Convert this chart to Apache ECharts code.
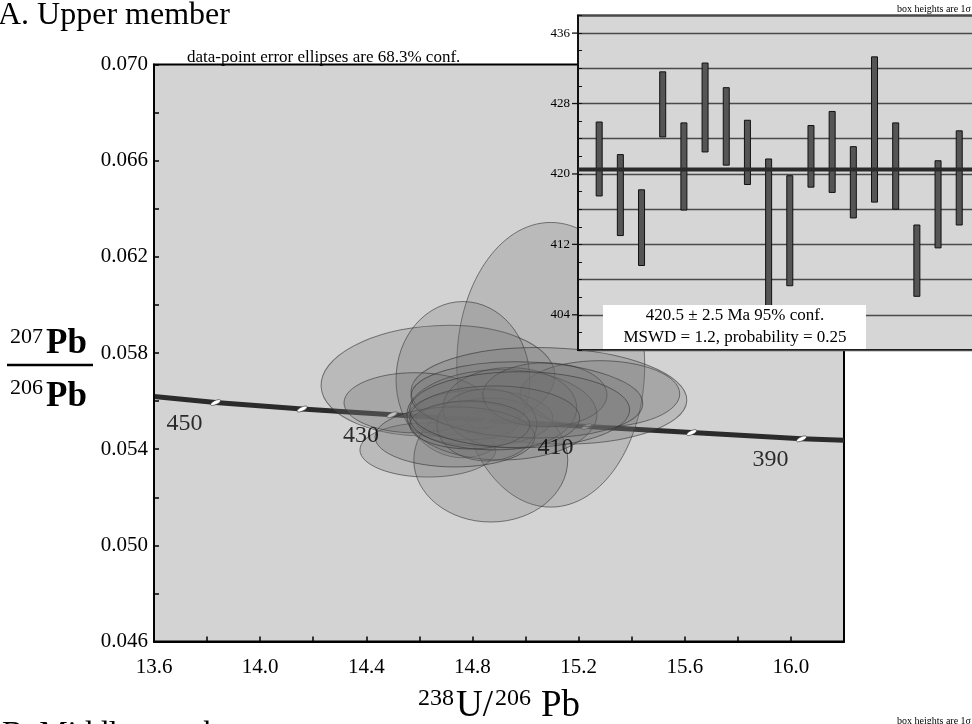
<!DOCTYPE html>
<html>
<head>
<meta charset="utf-8">
<title>A. Upper member</title>
<script src="https://cdn.jsdelivr.net/npm/echarts@6/dist/echarts.min.js"></script>
<style>
html,body{margin:0;padding:0;background:#fff;}
#chart{width:972px;height:724px;}
</style>
</head>
<body>
<div id="chart"></div>
<script>
var serif = "'Liberation Serif', 'Times New Roman', serif";

// concordia curve, age marks
var concAge = [450, 440, 430, 420, 410, 400, 390];
var concX = [13.832, 14.158, 14.497, 14.854, 15.230, 15.626, 16.040];
var concY = [0.05594, 0.05567, 0.05543, 0.05519, 0.05494, 0.05469, 0.05443];
var concStart = [13.6, 0.05619];
var concEnd = [16.2, 0.05437];
var concLabelAges = [450, 430, 410, 390];

// data-point error ellipses (centre, half axes, tilt in deg)
var ellX = [15.095, 14.670, 14.764, 15.088, 15.280, 14.632, 14.583, 14.869, 14.835, 14.828, 14.783, 14.911, 14.941, 14.854, 15.073, 14.734, 15.005, 14.790, 14.884, 14.978];
var ellY = [0.05751, 0.05685, 0.05689, 0.05622, 0.05630, 0.05397, 0.05593, 0.05355, 0.05522, 0.05530, 0.05518, 0.05543, 0.05572, 0.05501, 0.05626, 0.05451, 0.05605, 0.05501, 0.05530, 0.05564];
var ellRx = [0.354, 0.441, 0.252, 0.520, 0.301, 0.256, 0.267, 0.290, 0.056, 0.275, 0.196, 0.358, 0.252, 0.188, 0.234, 0.301, 0.437, 0.226, 0.320, 0.414];
var ellRy = [0.00592, 0.00229, 0.00325, 0.00200, 0.00138, 0.00113, 0.00125, 0.00258, 0.00035, 0.00117, 0.00079, 0.00188, 0.00167, 0.00150, 0.00133, 0.00125, 0.00158, 0.00100, 0.00133, 0.00158];
var ellRot = [0, 3, 0, -2, 0, 0, 0, 0, 0, 0, 0, 0, 0, 0, 0, 0, -2, 0, 0, 0];

// axis tick labels
var xTicks = [13.6, 14.0, 14.4, 14.8, 15.2, 15.6, 16.0];
var yTicks = [0.046, 0.050, 0.054, 0.058, 0.062, 0.066, 0.070];

// inset: weighted mean, box heights 1 sigma (Ma)
var barLo = [417.5, 413.0, 409.6, 424.2, 415.9, 422.5, 421.0, 418.8, 404.8, 407.3, 418.5, 417.9, 415.0, 416.8, 416.0, 406.1, 411.6, 414.2];
var barHi = [425.9, 422.2, 418.2, 431.6, 425.8, 432.6, 429.8, 426.1, 421.7, 419.8, 425.5, 427.1, 423.1, 433.3, 425.8, 414.2, 421.5, 424.9];
var meanAge = 420.5;
var insetTicks = [404, 412, 420, 428, 436];

function pickLabel(list, digits){
	return function(v){
		for(var i = 0; i < list.length; i++){
			if(Math.abs(v - list[i]) < 1e-7) return list[i].toFixed(digits);
		}
		return '';
	};
}

var chart = echarts.init(document.getElementById('chart'));

var concLine = [concStart];
var concMarks = [];
for(var i = 0; i < concAge.length; i++){
	concLine.push([concX[i], concY[i]]);
	concMarks.push([concX[i], concY[i]]);
}
concLine.push(concEnd);

var concLabels = [];
for(var i = 0; i < concLabelAges.length; i++){
	var k = concAge.indexOf(concLabelAges[i]);
	concLabels.push({value: [concX[k], concY[k]], name: String(concAge[k])});
}

var ellData = [];
for(var i = 0; i < ellX.length; i++){
	ellData.push([ellX[i], ellY[i], ellRx[i], ellRy[i], ellRot[i]]);
}

var barData = [];
for(var i = 0; i < barLo.length; i++){
	barData.push([i + 1, barLo[i], barHi[i]]);
}

// labelled inset ticks stick out to the left of the axis
var insetMajor = [];
for(var i = 0; i < insetTicks.length; i++){
	insetMajor.push([0, insetTicks[i]]);
}

function renderEllipse(params, api){
	var c = api.coord([api.value(0), api.value(1)]);
	var s = api.size([api.value(2), api.value(3)]);
	return {
		type: 'ellipse',
		x: c[0], y: c[1],
		rotation: api.value(4) * Math.PI / 180,
		shape: {cx: 0, cy: 0, rx: s[0], ry: s[1]},
		style: {fill: 'rgba(112,112,112,0.25)', stroke: 'rgba(50,50,50,0.6)', lineWidth: 1}
	};
}

function renderBar(params, api){
	var lo = api.coord([api.value(0), api.value(1)]);
	var hi = api.coord([api.value(0), api.value(2)]);
	return {
		type: 'rect',
		shape: {x: hi[0] - 3, y: hi[1], width: 6, height: lo[1] - hi[1]},
		style: {fill: '#555', stroke: '#111', lineWidth: 1}
	};
}

function renderMajorTick(params, api){
	var p = api.coord([api.value(0), api.value(1)]);
	return {
		type: 'line',
		shape: {x1: p[0] - 6, y1: p[1], x2: p[0], y2: p[1]},
		style: {stroke: '#111', lineWidth: 1.3}
	};
}

var option = {
	animation: false,
	backgroundColor: '#fff',
	grid: [
		{left: 154, top: 64.5, width: 690, height: 577, show: true, backgroundColor: '#d3d3d3',
		 borderColor: '#000', borderWidth: 2, z: 0, outerBoundsMode: 'none', containLabel: false},
		{left: 578, top: 15.5, width: 413, height: 334.5, show: true, backgroundColor: '#d6d6d6',
		 borderColor: '#111', borderWidth: 2, z: 10, outerBoundsMode: 'none', containLabel: false}
	],
	xAxis: [
		{type: 'value', gridIndex: 0, min: 13.6, max: 16.2, interval: 0.2, z: 5,
		 axisLine: {show: true, onZero: false, lineStyle: {color: '#000', width: 2}},
		 axisTick: {show: true, inside: true, length: 5, lineStyle: {color: '#000', width: 1.5}},
		 axisLabel: {show: true, margin: 15, color: '#000', fontSize: 21, fontFamily: serif,
		  formatter: pickLabel(xTicks, 1), showMaxLabel: false},
		 splitLine: {show: false}},
		{type: 'value', gridIndex: 1, min: 0, max: 19.5, z: 11,
		 axisLine: {show: false}, axisTick: {show: false}, axisLabel: {show: false}, splitLine: {show: false}}
	],
	yAxis: [
		{type: 'value', gridIndex: 0, min: 0.046, max: 0.070, interval: 0.002, z: 5,
		 axisLine: {show: true, onZero: false, lineStyle: {color: '#000', width: 2}},
		 axisTick: {show: true, inside: true, length: 5, lineStyle: {color: '#000', width: 1.5}},
		 axisLabel: {show: true, margin: 6, color: '#000', fontSize: 21, fontFamily: serif,
		  formatter: pickLabel(yTicks, 3)},
		 splitLine: {show: false}},
		{type: 'value', gridIndex: 1, min: 400, max: 438, interval: 2, z: 11,
		 axisLine: {show: true, onZero: false, lineStyle: {color: '#111', width: 2}},
		 axisTick: {show: true, inside: true, length: 4, lineStyle: {color: '#111', width: 1}},
		 axisLabel: {show: true, margin: 8, color: '#000', fontSize: 13, fontFamily: serif,
		  formatter: pickLabel(insetTicks, 0)},
		 splitLine: {show: false}},
		{type: 'value', gridIndex: 1, min: 400, max: 438, interval: 4, z: 11, position: 'left',
		 axisLine: {show: false}, axisTick: {show: false}, axisLabel: {show: false},
		 splitLine: {show: true, lineStyle: {color: '#4a4a4a', width: 1.3}}}
	],
	series: [
		{type: 'line', xAxisIndex: 0, yAxisIndex: 0, data: concLine, showSymbol: false, symbol: 'none',
		 smooth: false, z: 2, lineStyle: {color: '#2b2b2b', width: 5}, silent: true},
		{type: 'scatter', xAxisIndex: 0, yAxisIndex: 0, data: concMarks, symbol: 'circle',
		 symbolSize: [11, 4], symbolRotate: 25, z: 2, silent: true,
		 itemStyle: {color: '#fff', borderColor: '#333', borderWidth: 0.5, opacity: 1}},
		{type: 'custom', xAxisIndex: 0, yAxisIndex: 0, data: ellData, renderItem: renderEllipse,
		 z: 3, silent: true, clip: false, encode: {x: 0, y: 1}},
		{type: 'scatter', xAxisIndex: 0, yAxisIndex: 0, data: concLabels, symbolSize: 0, z: 4, silent: true,
		 label: {show: true, position: 'inside', offset: [-31, 21], formatter: '{b}',
		  color: '#000', fontSize: 24, fontFamily: serif}},
		{type: 'custom', xAxisIndex: 1, yAxisIndex: 1, data: barData, renderItem: renderBar,
		 z: 12, silent: true, encode: {x: 0, y: [1, 2]}},
		{type: 'custom', xAxisIndex: 1, yAxisIndex: 1, data: insetMajor, renderItem: renderMajorTick,
		 z: 12, silent: true, clip: false, encode: {x: 0, y: 1}},
		{type: 'line', xAxisIndex: 1, yAxisIndex: 1, data: [[0, meanAge], [19.5, meanAge]],
		 symbol: 'none', z: 12, silent: true, lineStyle: {color: '#2a2a2a', width: 4}}
	],
	graphic: [
		{type: 'text', x: -2, y: 16, z: 100, style: {text: 'A. Upper member', fontSize: 32, fontFamily: serif,
		 fill: '#000', verticalAlign: 'middle'}},
		{type: 'text', x: 187, y: 57.5, z: 100, style: {text: 'data-point error ellipses are 68.3% conf.',
		 fontSize: 17, fontFamily: serif, fill: '#000', verticalAlign: 'middle'}},
		{type: 'text', x: 971, y: 9, z: 100, style: {text: 'box heights are 1\u03c3', fontSize: 10,
		 fontFamily: serif, fill: '#000', align: 'right', verticalAlign: 'middle'}},
		{type: 'rect', z: 100, shape: {x: 603, y: 305, width: 263, height: 44}, style: {fill: '#fff'}},
		{type: 'text', x: 735, y: 316, z: 101, style: {text: '420.5 \u00b1 2.5 Ma 95% conf.', fontSize: 17,
		 fontFamily: serif, fill: '#000', align: 'center', verticalAlign: 'middle'}},
		{type: 'text', x: 735, y: 338, z: 101, style: {text: 'MSWD = 1.2, probability = 0.25', fontSize: 17,
		 fontFamily: serif, fill: '#000', align: 'center', verticalAlign: 'middle'}},
		// y title
		{type: 'text', x: 10, y: 337, z: 100, style: {text: '207', fontSize: 22, fontFamily: serif, fill: '#000', verticalAlign: 'middle'}},
		{type: 'text', x: 46, y: 344, z: 100, style: {text: 'Pb', fontSize: 35, fontWeight: 'bold', fontFamily: serif, fill: '#000', verticalAlign: 'middle'}},
		{type: 'line', z: 100, shape: {x1: 7, y1: 365, x2: 93, y2: 365}, style: {stroke: '#000', lineWidth: 2.5}},
		{type: 'text', x: 10, y: 388, z: 100, style: {text: '206', fontSize: 22, fontFamily: serif, fill: '#000', verticalAlign: 'middle'}},
		{type: 'text', x: 46, y: 397, z: 100, style: {text: 'Pb', fontSize: 35, fontWeight: 'bold', fontFamily: serif, fill: '#000', verticalAlign: 'middle'}},
		// x title
		{type: 'text', x: 418, y: 699, z: 100, style: {text: '238', fontSize: 24, fontFamily: serif, fill: '#000', verticalAlign: 'middle'}},
		{type: 'text', x: 456, y: 706, z: 100, style: {text: 'U/', fontSize: 37, fontFamily: serif, fill: '#000', verticalAlign: 'middle'}},
		{type: 'text', x: 495, y: 699, z: 100, style: {text: '206', fontSize: 24, fontFamily: serif, fill: '#000', verticalAlign: 'middle'}},
		{type: 'text', x: 541, y: 706, z: 100, style: {text: 'Pb', fontSize: 37, fontFamily: serif, fill: '#000', verticalAlign: 'middle'}},
		// next panel, cut off at the bottom
		{type: 'text', x: 2, y: 735, z: 100, style: {text: 'B. Middle member', fontSize: 32, fontFamily: serif, fill: '#000', verticalAlign: 'middle'}},
		{type: 'text', x: 971, y: 721, z: 100, style: {text: 'box heights are 1\u03c3', fontSize: 10,
		 fontFamily: serif, fill: '#000', align: 'right', verticalAlign: 'middle'}}
	]
};
chart.setOption(option);
</script>
</body>
</html>
